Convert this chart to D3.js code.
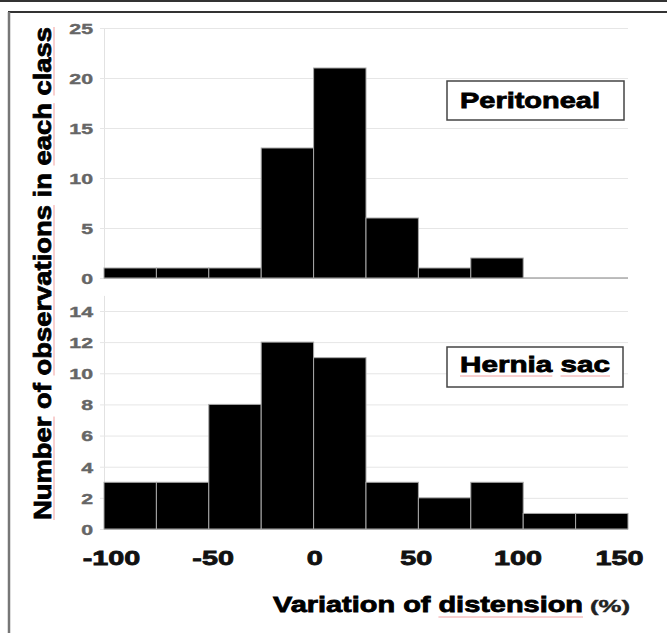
<!DOCTYPE html>
<html>
<head>
<meta charset="utf-8">
<script src="https://cdn.jsdelivr.net/npm/d3@7"></script>
<style>
  body { margin: 0; background: #fff; }
  svg text { font-family: "Liberation Sans", Arial, sans-serif; font-weight: bold; }
</style>
</head>
<body>
<svg id="chart" width="667" height="633"></svg>
<script>
// bins of 25 % (start of each class)
var binStarts = [-100, -75, -50, -25, 0, 25, 50, 75, 100, 125];
var binWidth = 25;
var peritonealCounts = [1, 1, 1, 13, 21, 6, 1, 2, 0, 0];
var herniaCounts = [3, 3, 8, 12, 11, 3, 2, 3, 1, 1];
var peritonealTicks = [0, 5, 10, 15, 20, 25];
var herniaTicks = [0, 2, 4, 6, 8, 10, 12, 14];
var xTicks = [-100, -50, 0, 50, 100, 150];

var svg = d3.select("#chart");

// frame of the scanned figure
svg.append("line").attr("x1", 0).attr("x2", 667).attr("y1", 1).attr("y2", 1)
    .attr("stroke", "#333").attr("stroke-width", 2);
svg.append("line").attr("x1", 8).attr("x2", 667).attr("y1", 12).attr("y2", 12)
    .attr("stroke", "#333").attr("stroke-width", 2);
svg.append("line").attr("x1", 9).attr("x2", 9).attr("y1", 12).attr("y2", 633)
    .attr("stroke", "#777").attr("stroke-width", 2.5);

var x = d3.scaleLinear().domain([-100, 150]).range([104, 628]);
// labels under the bottom panel are not quite aligned with the bars in the original
var xLabel = d3.scaleLinear().domain([-100, 150]).range([111, 619]);

var panels = [
    {counts: peritonealCounts, ticks: peritonealTicks, y: d3.scaleLinear().domain([0, 25]).range([278, 28]),
     name: "Peritoneal", box: [447, 81, 177, 39], textX: 460, textY: 108, textW: 140, underline: []},
    {counts: herniaCounts, ticks: herniaTicks, y: d3.scaleLinear().domain([0, 15]).range([529, 295.4]),
     name: "Hernia sac", box: [447, 347, 176, 40], textX: 460, textY: 372, textW: 150, underline: ["Hernia", "sac"]}
];

function pinkUnderline(textSel, words, offset, parent) {
    var node = textSel.node(), str = node.textContent;
    words.forEach(function (w) {
        var i = str.indexOf(w);
        if (i < 0) return;
        var a = node.getStartPositionOfChar(i), b = node.getEndPositionOfChar(i + w.length - 1);
        parent.append("line")
            .attr("x1", a.x).attr("x2", b.x).attr("y1", a.y + offset).attr("y2", b.y + offset)
            .attr("stroke", "#f2a0a0").attr("stroke-width", 1);
    });
}

panels.forEach(function (p, pi) {
    var g = svg.append("g");
    var y = p.y;

    var yAxis = d3.axisLeft(y).tickValues(p.ticks).tickSizeInner(-(x.range()[1] - x.range()[0])).tickSizeOuter(0);
    var ax = g.append("g").attr("transform", "translate(" + x.range()[0] + ",0)").call(yAxis);
    ax.select(".domain").attr("stroke", "#e2e2e2");
    ax.selectAll(".tick line").attr("stroke", "#e6e6e6").attr("x1", -4);
    ax.selectAll(".tick text")
        .attr("x", 0).attr("dy", "0.36em")
        .attr("transform", "translate(-11,0) scale(1.42,1)")
        .attr("fill", "#666").attr("stroke", "#666").attr("stroke-width", 0.4)
        .attr("font-size", 15);

    g.append("line")
        .attr("x1", x.range()[0]).attr("x2", x.range()[1])
        .attr("y1", y(0)).attr("y2", y(0))
        .attr("stroke", "#aaa").attr("stroke-width", 1.5);

    g.selectAll("rect.bar")
        .data(binStarts.map(function (s, i) { return {start: s, count: p.counts[i]}; })
            .filter(function (d) { return d.count > 0; }))
        .enter().append("rect")
        .attr("class", "bar")
        .attr("x", function (d) { return x(d.start); })
        .attr("width", function (d) { return x(d.start + binWidth) - x(d.start); })
        .attr("y", function (d) { return y(d.count); })
        .attr("height", function (d) { return y(0) - y(d.count); })
        .attr("fill", "#000")
        .attr("stroke", "#a8a8a8").attr("stroke-width", 1);

    // legend box
    g.append("rect")
        .attr("x", p.box[0]).attr("y", p.box[1]).attr("width", p.box[2]).attr("height", p.box[3])
        .attr("fill", "#fff").attr("stroke", "#444").attr("stroke-width", 1.5);
    var lt = g.append("text")
        .attr("x", p.textX).attr("y", p.textY)
        .attr("font-size", 22).attr("fill", "#000").attr("stroke", "#000").attr("stroke-width", 0.8)
        .attr("textLength", p.textW).attr("lengthAdjust", "spacingAndGlyphs")
        .text(p.name);
    pinkUnderline(lt, p.underline, 4, g);

    if (pi === 1) {
        var xAxis = d3.axisBottom(xLabel).tickValues(xTicks).tickSize(0).tickFormat(d3.format("d"));
        var xg = g.append("g").attr("transform", "translate(0,565)").call(xAxis);
        xg.select(".domain").remove();
        xg.selectAll(".tick text")
            .attr("y", 0).attr("dy", 0)
            .attr("transform", "scale(1.37,1)")
            .attr("font-size", 21).attr("fill", "#111").attr("stroke", "#111").attr("stroke-width", 0.8)
            .text(function (d) { return d < 0 ? "-" + Math.abs(d) : d; });
    }
});

// axis titles
var yTitleG = svg.append("g").attr("transform", "translate(51,520) rotate(-90)");
var yTitle = yTitleG.append("text")
    .attr("x", 0).attr("y", 0)
    .attr("font-size", 24).attr("fill", "#000").attr("stroke", "#000").attr("stroke-width", 0.8)
    .attr("textLength", 493).attr("lengthAdjust", "spacingAndGlyphs")
    .text("Number of observations in each class");
pinkUnderline(yTitle, ["Number", "observations", "each", "class"], 3, yTitleG);

var xTitle = svg.append("text")
    .attr("x", 273).attr("y", 612)
    .attr("font-size", 22).attr("fill", "#000").attr("stroke", "#000").attr("stroke-width", 0.8)
    .attr("textLength", 310).attr("lengthAdjust", "spacingAndGlyphs")
    .text("Variation of distension");
pinkUnderline(xTitle, ["distension"], 5, svg);
svg.append("text")
    .attr("x", 590).attr("y", 612)
    .attr("font-size", 16).attr("fill", "#222").attr("stroke", "#222").attr("stroke-width", 0.4)
    .attr("textLength", 40).attr("lengthAdjust", "spacingAndGlyphs")
    .text("(%)");
</script>
</body>
</html>
